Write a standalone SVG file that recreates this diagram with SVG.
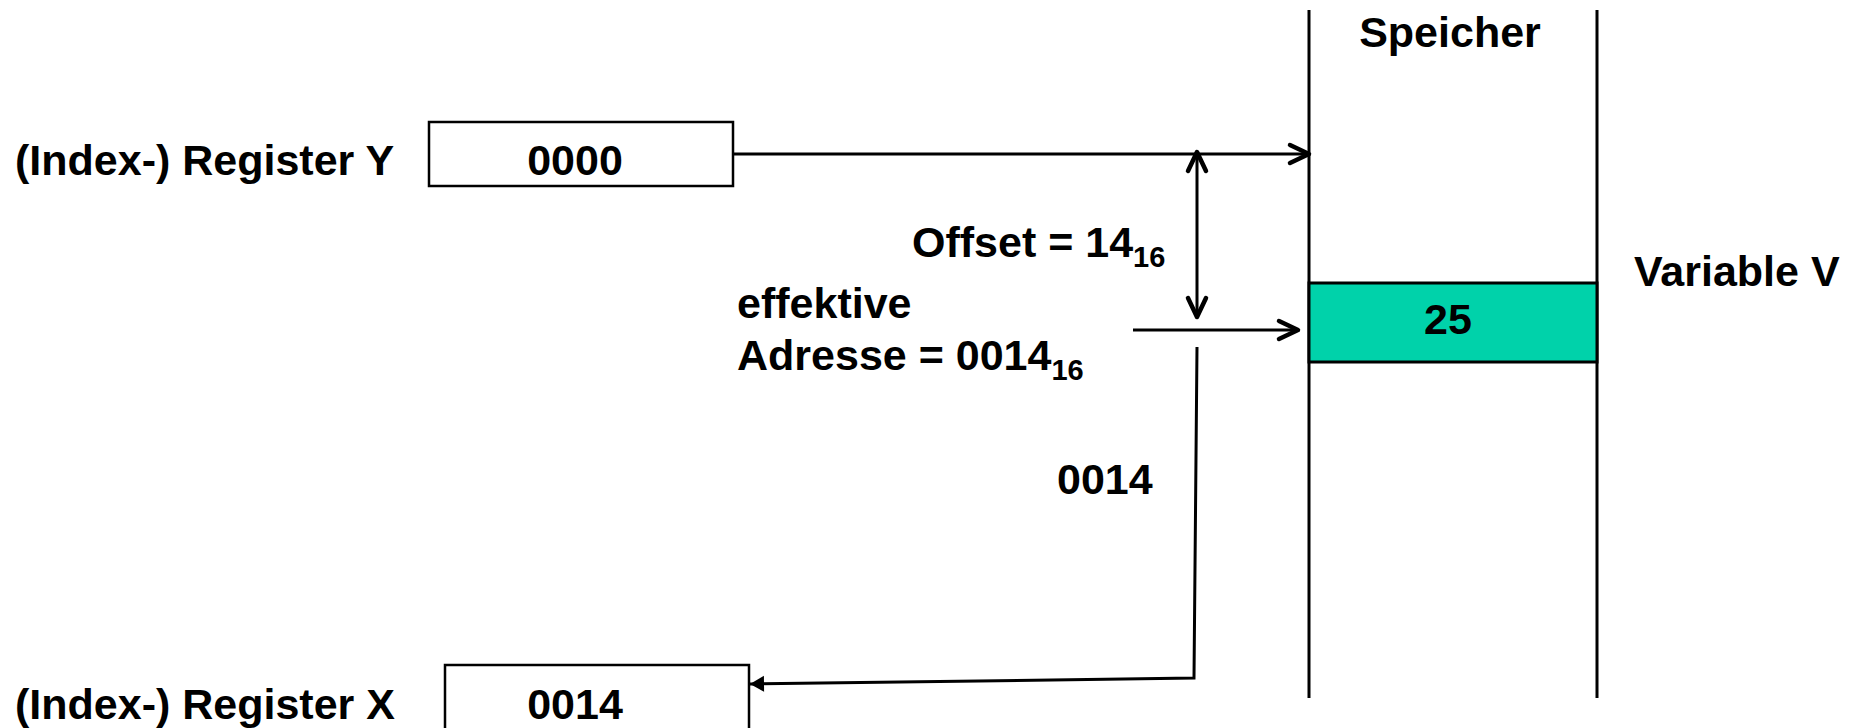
<svg xmlns="http://www.w3.org/2000/svg" width="1858" height="728" viewBox="0 0 1858 728">
  <style>
    .t { font-family: "Liberation Sans", Arial, Helvetica, sans-serif; font-weight: bold; font-size: 43px; fill: #000; }
    .sub { font-size: 29px; }
    .box { fill: #fff; stroke: #000; stroke-width: 2.5; }
    .line { fill: none; stroke: #000; stroke-width: 3; }
  </style>
  <defs>
    <marker id="open" markerUnits="userSpaceOnUse" viewBox="-24 -14 28 28" refX="0" refY="0" markerWidth="28" markerHeight="28" orient="auto-start-reverse" overflow="visible">
      <path d="M -19 -9 L 0 0 L -19 9" fill="none" stroke="#000" stroke-width="4.5" stroke-linecap="round" stroke-linejoin="round"/>
    </marker>
    <marker id="filled" markerUnits="userSpaceOnUse" viewBox="-16 -10 18 20" refX="0" refY="0" markerWidth="18" markerHeight="20" orient="auto" overflow="visible">
      <path d="M -14 -8 L 0 0 L -14 8 Z" fill="#000"/>
    </marker>
  </defs>

  <g id="memory">
    <line class="line" x1="1309" y1="10" x2="1309" y2="698"/>
    <line class="line" x1="1597" y1="10" x2="1597" y2="698"/>
    <text class="t" x="1450" y="47" text-anchor="middle">Speicher</text>
  </g>

  <g id="variable-v">
    <rect x="1309" y="283" width="288" height="79" fill="#00D2AA" stroke="#000" stroke-width="3"/>
    <text class="t" x="1448" y="334" text-anchor="middle">25</text>
    <text class="t" x="1634" y="286">Variable V</text>
  </g>

  <g id="register-y">
    <text class="t" x="15" y="175">(Index-) Register Y</text>
    <rect class="box" x="429" y="122" width="304" height="64"/>
    <text class="t" x="575" y="175" text-anchor="middle">0000</text>
  </g>

  <g id="register-x">
    <text class="t" x="15" y="719">(Index-) Register X</text>
    <rect class="box" x="445" y="665" width="304" height="80"/>
    <text class="t" x="575" y="719" text-anchor="middle">0014</text>
  </g>

  <g id="labels">
    <text class="t" x="912" y="257">Offset = 14<tspan class="sub" dy="10">16</tspan></text>
    <text class="t" x="737" y="318">effektive</text>
    <text class="t" x="737" y="370">Adresse = 0014<tspan class="sub" dy="10">16</tspan></text>
    <text class="t" x="1057" y="494">0014</text>
  </g>

  <g id="connectors">
    <line class="line" x1="733" y1="154" x2="1309" y2="154" marker-end="url(#open)"/>
    <line class="line" x1="1197" y1="152" x2="1197" y2="317" marker-start="url(#open)" marker-end="url(#open)"/>
    <line class="line" x1="1133" y1="330" x2="1298" y2="330" marker-end="url(#open)"/>
    <polyline class="line" points="1197,347 1194,678 750,684" marker-end="url(#filled)"/>
  </g>
</svg>
